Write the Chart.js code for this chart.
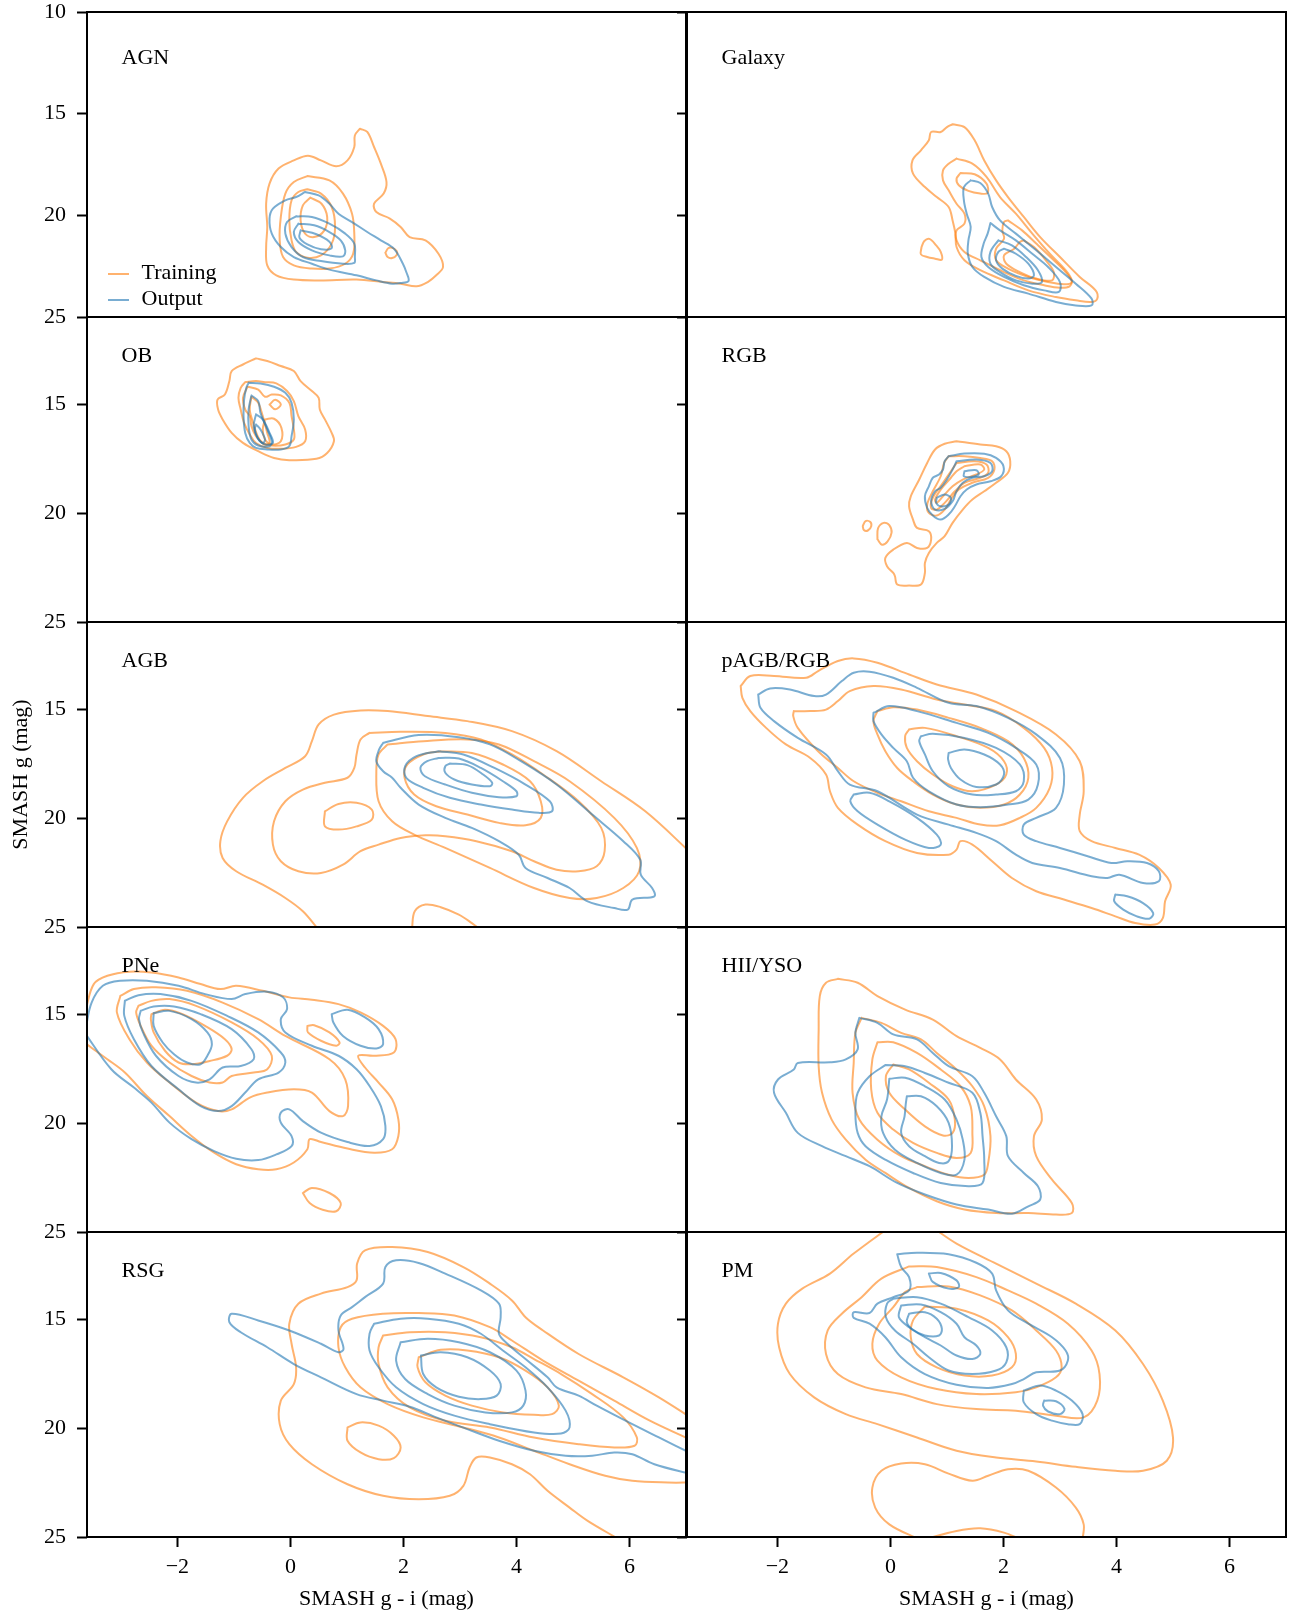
<!DOCTYPE html>
<html>
<head>
<meta charset="utf-8">
<script src="https://cdn.jsdelivr.net/npm/chart.js@4.4.1/dist/chart.umd.min.js"></script>
<style>
  html, body { margin: 0; padding: 0; background: #fff; }
  body { position: relative; width: 1304px; height: 1618px; overflow: hidden; }
  canvas { position: absolute; }
</style>
</head>
<body>
<script>
// Density contours in the colour-magnitude plane (SMASH g-i vs g), one panel per class.
// Each contour is a flat list x0,y0,x1,y1,... in data units (mag).

const panelNames = ['AGN', 'Galaxy', 'OB', 'RGB', 'AGB', 'pAGB/RGB', 'PNe', 'HII/YSO', 'RSG', 'PM'];
const seriesNames = ['Training', 'Output'];
const seriesColors = ['rgba(255,127,14,0.6)', 'rgba(31,119,180,0.6)'];
const xTickValues = [-2, 0, 2, 4, 6];
const yTicksFirstRow = [10, 15, 20, 25];
const yTicksOtherRows = [15, 20, 25];
const xRange = [-3.6, 7.0];
const yRangeFirstRow = [10, 25];
const yRangeOtherRows = [11, 25];
const xTitle = 'SMASH g - i (mag)';
const yTitle = 'SMASH g (mag)';

// ---- AGN ----
const agnTraining = [
  [1.23,15.74, 1.36,15.90, 1.48,16.64, 1.60,17.46, 1.70,18.36, 1.65,18.93, 1.48,19.43, 1.52,19.84, 1.76,20.16, 1.95,20.57, 2.11,21.07, 2.39,21.23, 2.62,21.89, 2.70,22.54, 2.58,22.95, 2.43,23.28, 2.23,23.49, 1.95,23.36, 1.64,23.28, 1.17,23.16, 0.54,23.20, 0.06,23.16, -0.25,22.95, -0.41,22.46, -0.43,21.56, -0.41,20.57, -0.43,19.43, -0.37,18.44, -0.21,17.70, 0.06,17.30, 0.31,17.07, 0.54,17.30, 0.81,17.59, 1.01,17.30, 1.13,16.64, 1.14,16.07],
  [1.68,21.84, 1.73,21.62, 1.80,21.60, 1.88,21.75, 1.88,21.95, 1.80,22.10, 1.72,22.05],
  [0.30,18.07, 0.69,18.28, 0.93,18.93, 1.09,19.92, 1.13,20.90, 1.11,21.89, 0.97,22.38, 0.69,22.62, 0.38,22.62, 0.06,22.46, -0.13,22.05, -0.19,21.23, -0.17,20.08, -0.09,18.93, 0.06,18.36],
  [0.30,18.72, 0.54,18.93, 0.73,19.59, 0.79,20.57, 0.73,21.39, 0.54,21.97, 0.30,22.08, 0.10,21.80, 0.02,21.23, -0.02,20.25, 0.02,19.26, 0.14,18.85],
  [0.35,19.13, 0.55,19.43, 0.65,20.08, 0.60,20.74, 0.42,21.07, 0.26,20.90, 0.18,20.25, 0.22,19.51]
];
const agnOutput = [
  [0.26,18.85, 0.50,19.02, 0.69,19.43, 0.85,19.92, 1.09,20.33, 1.36,20.82, 1.60,21.23, 1.83,21.64, 1.99,22.38, 2.05,22.79, 2.09,23.23, 1.95,23.33, 1.80,23.36, 1.52,23.20, 1.17,22.95, 0.69,22.67, 0.38,22.38, 0.06,22.05, -0.17,21.56, -0.33,20.90, -0.37,20.16, -0.31,19.67, -0.09,19.26, 0.10,19.10],
  [0.10,20.05, 0.38,20.08, 0.69,20.41, 0.97,20.90, 1.13,21.39, 1.14,22.05, 1.13,22.34, 0.93,22.38, 0.54,22.25, 0.22,22.05, 0.02,21.56, -0.09,20.90, -0.06,20.33],
  [0.14,20.41, 0.42,20.49, 0.69,20.82, 0.89,21.23, 0.97,21.72, 0.93,22.02, 0.69,21.97, 0.38,21.72, 0.14,21.31, 0.06,20.82],
  [0.18,20.74, 0.46,20.93, 0.69,21.30, 0.73,21.62, 0.54,21.67, 0.30,21.43, 0.16,21.10]
];

// ---- Galaxy ----
const galaxyTraining = [
  [1.10,15.52, 1.31,15.66, 1.49,16.31, 1.66,17.30, 1.87,18.28, 2.08,19.10, 2.36,20.08, 2.65,21.07, 3.00,22.05, 3.35,23.03, 3.63,23.69, 3.66,24.10, 3.56,24.26, 3.28,24.18, 2.93,24.02, 2.44,23.69, 2.01,23.20, 1.59,22.70, 1.31,22.21, 1.17,21.56, 1.15,20.90, 1.10,20.25, 1.03,19.59, 0.82,19.10, 0.61,18.61, 0.40,17.95, 0.39,17.30, 0.54,16.80, 0.68,16.31, 0.72,15.90, 0.89,15.90, 1.00,15.66],
  [0.55,21.56, 0.60,21.26, 0.69,21.16, 0.81,21.48, 0.89,21.80, 0.91,22.18, 0.79,22.13, 0.65,22.05, 0.54,21.92],
  [1.17,17.21, 1.45,17.46, 1.70,18.11, 1.94,19.10, 2.22,19.92, 2.51,20.90, 2.82,21.89, 3.10,22.70, 3.21,23.20, 3.17,23.49, 3.00,23.56, 2.72,23.44, 2.36,23.20, 2.01,22.79, 1.59,22.21, 1.31,21.80, 1.17,21.23, 1.17,20.74, 1.31,20.41, 1.31,19.92, 1.17,19.43, 1.03,18.77, 0.93,18.28, 0.93,17.79, 1.03,17.46],
  [1.24,17.92, 1.49,17.98, 1.70,18.44, 1.72,18.90, 1.59,18.93, 1.38,18.80, 1.21,18.52, 1.17,18.20],
  [2.08,20.25, 2.33,20.74, 2.58,21.39, 2.86,22.13, 3.10,22.79, 3.21,23.28, 3.07,23.39, 2.79,23.28, 2.44,23.03, 2.08,22.62, 1.87,22.21, 1.87,21.64, 2.01,21.15, 1.98,20.74, 2.01,20.33],
  [2.36,21.23, 2.54,21.56, 2.75,22.21, 2.89,22.79, 2.86,23.20, 2.58,23.11, 2.29,22.79, 2.05,22.38, 2.01,21.97, 2.19,21.64, 2.29,21.31]
];
const galaxyOutput = [
  [1.42,18.28, 1.59,18.41, 1.73,18.93, 1.80,19.59, 1.94,20.25, 2.22,20.90, 2.58,21.72, 2.93,22.54, 3.28,23.36, 3.56,24.10, 3.56,24.43, 3.28,24.43, 2.93,24.26, 2.44,23.85, 2.01,23.52, 1.66,23.03, 1.45,22.54, 1.37,21.89, 1.38,21.23, 1.42,20.57, 1.35,19.92, 1.30,19.26, 1.30,18.61],
  [1.77,20.38, 1.94,20.74, 2.22,21.23, 2.51,21.89, 2.79,22.54, 3.00,23.28, 2.98,23.77, 2.72,23.69, 2.36,23.44, 2.01,23.03, 1.73,22.54, 1.61,22.05, 1.65,21.39, 1.72,20.90],
  [1.91,21.23, 2.15,21.48, 2.40,22.05, 2.61,22.70, 2.68,23.28, 2.51,23.36, 2.22,23.20, 1.94,22.79, 1.77,22.38, 1.77,21.80],
  [2.01,21.64, 2.22,21.89, 2.44,22.38, 2.54,22.95, 2.44,23.11, 2.22,22.98, 1.98,22.62, 1.87,22.21, 1.91,21.80]
];

// ---- OB ----
const obTraining = [
  [-0.61,12.90, -0.41,13.02, -0.17,13.25, 0.06,13.48, 0.18,13.94, 0.38,14.40, 0.50,14.71, 0.52,15.25, 0.61,15.70, 0.73,16.32, 0.77,16.70, 0.65,17.24, 0.46,17.51, -0.02,17.57, -0.29,17.47, -0.57,17.16, -0.84,16.78, -1.04,16.32, -1.20,15.70, -1.28,15.25, -1.29,14.79, -1.16,14.56, -1.08,13.94, -1.04,13.48, -0.84,13.18],
  [-0.80,13.99, -0.61,13.94, -0.45,13.99, -0.25,14.05, -0.06,14.40, 0.06,14.86, 0.14,15.55, 0.26,16.16, 0.26,16.70, 0.10,16.96, -0.17,17.05, -0.41,17.01, -0.61,16.78, -0.72,16.39, -0.82,15.86, -0.88,15.25, -0.92,14.71, -0.88,14.25],
  [-0.76,14.20, -0.57,14.33, -0.45,14.66, -0.33,14.56, -0.17,14.60, -0.02,14.94, 0.02,15.55, 0.06,16.16, 0.06,16.62, -0.09,16.85, -0.33,16.90, -0.49,16.78, -0.61,16.47, -0.69,16.01, -0.72,15.55, -0.80,15.25, -0.84,14.71],
  [-0.37,15.02, -0.27,14.80, -0.17,15.02, -0.27,15.24],
  [-0.45,15.70, -0.29,15.67, -0.16,16.09, -0.17,16.70, -0.33,16.85, -0.45,16.62, -0.49,16.16],
  [-0.69,14.66, -0.57,14.94, -0.49,15.55, -0.41,16.32, -0.37,16.78, -0.47,16.85, -0.58,16.47, -0.66,15.86, -0.72,15.25]
];
const obOutput = [
  [-0.74,14.02, -0.53,14.05, -0.29,14.20, -0.09,14.48, 0.02,14.94, 0.06,15.70, 0.02,16.47, -0.02,16.93, -0.17,17.08, -0.41,17.08, -0.61,17.01, -0.72,16.78, -0.80,16.32, -0.83,15.55, -0.82,14.79, -0.78,14.25],
  [-0.69,14.60, -0.57,14.86, -0.53,15.40, -0.41,16.16, -0.33,16.70, -0.37,16.93, -0.57,16.90, -0.69,16.62, -0.74,16.01, -0.74,15.25],
  [-0.61,15.47, -0.49,15.70, -0.37,16.32, -0.31,16.78, -0.45,16.85, -0.58,16.55, -0.65,16.01],
  [-0.61,15.93, -0.53,16.16, -0.45,16.62, -0.49,16.78, -0.58,16.55, -0.63,16.16]
];

// ---- RGB ----
const rgbTraining = [
  [1.17,16.70, 1.59,16.85, 1.87,16.93, 2.05,17.16, 2.12,17.62, 2.08,18.15, 1.87,18.61, 1.66,19.00, 1.45,19.38, 1.28,19.84, 1.10,20.45, 0.96,21.06, 0.82,21.37, 0.68,21.83, 0.61,22.29, 0.61,22.75, 0.54,23.28, 0.33,23.33, 0.12,23.28, 0.08,22.90, 0.05,22.75, -0.06,22.44, -0.09,22.06, 0.05,21.68, 0.29,21.37, 0.47,21.60, 0.65,21.60, 0.72,21.22, 0.68,20.83, 0.47,20.68, 0.40,20.30, 0.33,19.69, 0.36,19.23, 0.51,18.46, 0.65,17.70, 0.79,17.08, 0.96,16.82],
  [-0.49,20.60, -0.44,20.37, -0.36,20.40, -0.34,20.60, -0.40,20.80, -0.47,20.78],
  [-0.23,21.20, -0.22,20.70, -0.12,20.45, -0.02,20.55, 0.02,20.90, -0.05,21.30, -0.15,21.45],
  [1.03,17.39, 1.31,17.39, 1.59,17.47, 1.80,17.62, 1.84,18.00, 1.73,18.38, 1.45,18.61, 1.21,18.92, 1.07,19.38, 0.96,19.84, 0.82,20.11, 0.68,19.99, 0.65,19.61, 0.75,19.00, 0.89,18.31, 0.95,17.70],
  [1.17,17.70, 1.49,17.62, 1.70,17.77, 1.73,18.15, 1.59,18.38, 1.31,18.61, 1.14,19.00, 0.96,19.53, 0.82,19.84, 0.72,19.76, 0.75,19.30, 0.93,18.61, 1.07,18.08],
  [1.31,17.85, 1.59,17.77, 1.66,18.00, 1.52,18.23, 1.28,18.46, 1.10,18.77, 0.93,19.23, 0.82,19.53, 0.79,19.38, 0.89,18.92, 1.07,18.38, 1.17,18.08]
];
const rgbOutput = [
  [1.03,17.39, 1.31,17.27, 1.66,17.28, 1.87,17.47, 2.00,17.85, 1.96,18.31, 1.77,18.54, 1.52,18.69, 1.35,18.92, 1.24,19.23, 1.14,19.69, 1.03,20.07, 0.89,20.30, 0.75,20.11, 0.65,19.76, 0.61,19.23, 0.68,18.77, 0.75,18.38, 0.86,18.23, 0.93,18.00, 0.96,17.62],
  [1.17,17.62, 1.52,17.54, 1.77,17.70, 1.80,18.08, 1.66,18.31, 1.45,18.38, 1.28,18.61, 1.17,19.00, 1.10,19.46, 0.96,19.81, 0.79,19.84, 0.72,19.46, 0.79,19.00, 0.89,18.84, 1.00,18.46, 1.10,18.00],
  [1.31,18.08, 1.52,18.03, 1.56,18.23, 1.42,18.34, 1.30,18.31],
  [0.82,19.30, 0.96,19.15, 1.07,19.30, 1.03,19.61, 0.89,19.69, 0.81,19.53]
];

// ---- AGB ----
const agbTraining = [
  [1.40,16.09, 1.95,16.04, 2.74,16.09, 3.37,16.39, 3.92,17.08, 4.47,18.00, 5.10,19.23, 5.50,20.45, 5.56,21.52, 5.42,22.21, 5.10,22.44, 4.71,22.37, 4.31,21.98, 3.92,21.52, 3.29,21.06, 2.74,20.83, 2.39,20.79, 1.95,20.91, 1.56,21.22, 1.24,21.52, 0.93,22.14, 0.54,22.52, 0.14,22.44, -0.17,21.98, -0.31,21.22, -0.29,20.15, -0.09,19.23, 0.22,18.69, 0.61,18.38, 1.01,18.15, 1.13,17.70, 1.17,17.08, 1.24,16.39],
  [0.61,19.69, 0.85,19.35, 1.17,19.30, 1.44,19.61, 1.44,20.07, 1.17,20.38, 0.85,20.53, 0.61,20.38],
  [1.72,16.62, 2.35,16.47, 3.13,16.39, 3.69,16.62, 4.31,17.39, 4.94,18.31, 5.73,19.99, 6.13,21.37, 6.17,22.44, 5.89,23.21, 5.42,23.67, 4.94,23.67, 4.31,23.21, 3.53,22.29, 2.74,21.37, 2.19,20.76, 1.80,20.15, 1.56,19.23, 1.52,17.85, 1.56,17.08],
  [2.66,16.93, 3.21,17.01, 3.76,17.54, 4.24,18.31, 4.43,19.23, 4.43,19.99, 4.16,20.33, 3.69,20.22, 3.13,19.84, 2.58,19.46, 2.19,18.92, 2.02,18.15, 2.07,17.54, 2.35,17.08]
];
const agbTrainingOpen = [
  [0.49,25.10, 0.22,24.28, -0.09,23.67, -0.49,23.06, -0.96,22.44, -1.20,21.83, -1.24,21.06, -1.12,20.15, -0.84,19.07, -0.49,18.31, -0.09,17.70, 0.26,17.16, 0.38,16.47, 0.50,15.70, 0.77,15.25, 1.24,15.06, 1.72,15.09, 2.43,15.32, 3.13,15.55, 3.92,16.01, 4.71,16.93, 5.50,18.31, 6.28,19.69, 7.10,21.63],
  [2.15,25.10, 2.20,24.28, 2.39,23.97, 2.66,24.09, 2.98,24.43, 3.21,24.82, 3.35,25.10]
];
const agbOutput = [
  [1.64,16.55, 2.27,16.19, 2.98,16.29, 3.53,16.62, 4.08,17.39, 4.71,18.46, 5.34,19.84, 5.89,21.06, 6.19,21.91, 6.20,22.60, 6.40,23.21, 6.44,23.59, 6.05,23.74, 5.97,24.20, 5.73,24.13, 5.26,23.82, 4.94,23.21, 4.55,22.75, 4.16,22.29, 4.04,21.68, 3.69,21.06, 3.21,20.45, 2.74,19.99, 2.27,19.38, 1.95,18.61, 1.80,18.15, 1.64,17.85, 1.52,17.39, 1.57,16.85],
  [2.62,16.93, 3.06,17.08, 3.61,17.70, 4.16,18.46, 4.59,19.23, 4.63,19.69, 4.39,19.76, 3.92,19.61, 3.37,19.38, 2.82,19.07, 2.35,18.61, 2.05,18.15, 2.03,17.62, 2.23,17.16],
  [2.62,17.24, 2.98,17.27, 3.37,17.70, 3.76,18.31, 4.00,18.77, 4.00,19.00, 3.69,19.04, 3.21,18.84, 2.74,18.46, 2.38,18.08, 2.30,17.70, 2.42,17.39],
  [2.82,17.50, 3.13,17.57, 3.41,18.00, 3.57,18.38, 3.53,18.54, 3.21,18.46, 2.90,18.23, 2.74,17.92, 2.74,17.62]
];

// ---- pAGB/RGB ----
const pagbTraining = [
  [-2.65,13.94, -2.48,13.48, -2.06,13.48, -1.49,13.56, -1.28,13.25, -0.93,12.79, -0.65,12.67, -0.23,12.87, 0.33,13.41, 0.82,13.87, 1.52,14.33, 2.22,15.09, 2.93,16.16, 3.35,17.39, 3.42,18.77, 3.35,19.84, 3.35,20.60, 3.56,21.06, 3.98,21.37, 4.40,21.68, 4.75,22.29, 4.96,23.06, 4.86,23.82, 4.82,24.59, 4.68,24.89, 4.33,24.82, 3.98,24.51, 3.56,24.13, 3.07,23.74, 2.58,23.36, 2.15,22.75, 1.80,21.98, 1.45,21.22, 1.24,21.06, 1.17,21.45, 1.03,21.68, 0.47,21.60, -0.09,21.06, -0.58,20.30, -0.93,19.53, -1.07,18.77, -1.14,18.00, -1.42,17.24, -1.85,16.62, -2.20,15.86, -2.48,15.09, -2.62,14.48],
  [-1.71,15.09, -1.42,15.09, -1.14,15.02, -0.93,14.63, -0.72,14.17, -0.30,13.94, 0.19,14.10, 0.82,14.56, 1.31,14.79, 1.87,15.09, 2.36,15.86, 2.72,16.78, 2.86,17.70, 2.82,18.61, 2.58,19.53, 2.29,19.99, 1.94,20.33, 1.59,20.30, 1.17,19.99, 0.68,19.69, 0.19,19.23, -0.23,18.84, -0.65,18.31, -0.93,17.70, -1.28,16.93, -1.64,15.86, -1.72,15.32],
  [-0.23,15.09, 0.05,14.91, 0.47,15.02, 1.03,15.40, 1.59,15.86, 2.08,16.47, 2.36,17.24, 2.44,18.15, 2.29,18.92, 2.01,19.38, 1.59,19.53, 1.17,19.38, 0.75,18.92, 0.40,18.31, 0.12,17.70, -0.09,16.93, -0.23,16.16, -0.30,15.55],
  [0.33,15.93, 0.61,15.86, 1.17,16.24, 1.73,16.78, 2.01,17.39, 2.05,18.00, 1.87,18.46, 1.45,18.77, 1.10,18.54, 0.75,18.00, 0.47,17.39, 0.29,16.78, 0.26,16.24]
];
const pagbOutput = [
  [-2.34,14.33, -2.13,14.05, -1.78,14.10, -1.35,14.40, -1.14,14.33, -0.86,13.71, -0.65,13.33, -0.37,13.28, 0.05,13.56, 0.47,14.02, 1.03,14.71, 1.52,14.86, 2.08,15.40, 2.58,16.16, 3.00,17.24, 3.07,18.46, 2.93,19.53, 2.58,19.99, 2.36,20.30, 2.36,20.76, 2.58,21.06, 3.00,21.37, 3.49,21.75, 3.91,22.06, 4.19,21.98, 4.54,22.06, 4.75,22.44, 4.75,22.90, 4.47,22.98, 4.05,22.60, 3.84,22.75, 3.56,22.67, 3.00,22.29, 2.51,22.06, 2.22,21.68, 1.87,21.06, 1.52,20.68, 1.03,20.30, 0.47,19.84, -0.23,18.77, -0.72,18.46, -0.93,17.85, -1.14,17.08, -1.64,16.32, -2.06,15.55, -2.30,14.94],
  [-0.30,15.17, -0.02,14.86, 0.47,15.09, 1.17,15.63, 1.73,16.09, 2.22,16.78, 2.58,17.54, 2.61,18.46, 2.44,19.15, 2.08,19.38, 1.59,19.50, 1.17,19.38, 0.68,18.77, 0.40,18.15, 0.29,17.39, 0.05,16.78, -0.16,16.16, -0.30,15.55],
  [0.54,16.24, 0.75,16.13, 1.31,16.32, 1.87,16.78, 2.29,17.54, 2.36,18.31, 2.22,18.77, 1.87,18.92, 1.45,18.92, 1.03,18.54, 0.75,17.85, 0.61,17.08, 0.51,16.47],
  [1.03,17.01, 1.31,16.85, 1.66,17.08, 1.94,17.54, 2.01,18.00, 1.87,18.46, 1.52,18.57, 1.24,18.23, 1.07,17.70, 1.02,17.31],
  [3.98,23.51, 4.19,23.59, 4.47,23.90, 4.65,24.36, 4.58,24.62, 4.36,24.51, 4.12,24.20, 3.96,23.82],
  [-0.65,18.92, -0.37,18.84, -0.02,19.23, 0.47,19.99, 0.82,20.76, 0.89,21.22, 0.68,21.37, 0.26,20.99, -0.23,20.30, -0.58,19.69, -0.71,19.23]
];

// ---- PNe ----
const pneTraining = [
  [-3.01,14.16, -2.77,13.85, -2.38,13.77, -1.83,13.93, -1.20,14.47, -0.57,15.23, -0.09,16.00, 0.69,17.07, 0.97,17.99, 1.02,19.21, 0.93,19.68, 0.69,19.45, 0.38,18.60, 0.06,18.45, -0.41,18.60, -0.72,18.83, -1.04,19.37, -1.28,19.45, -1.67,19.06, -2.14,18.14, -2.54,17.22, -2.85,16.15, -3.07,14.93],
  [-2.69,14.62, -2.46,14.39, -2.14,14.31, -1.67,14.62, -1.04,15.38, -0.57,16.15, -0.33,16.91, -0.41,17.53, -0.65,17.68, -1.04,17.84, -1.20,18.14, -1.43,18.14, -1.75,17.84, -2.14,17.22, -2.46,16.45, -2.65,15.54, -2.73,14.93],
  [-2.46,15.00, -2.22,14.80, -1.91,15.00, -1.51,15.54, -1.16,16.15, -1.04,16.61, -1.12,16.91, -1.43,17.15, -1.75,17.30, -1.98,17.22, -2.22,16.68, -2.42,15.84, -2.47,15.23],
  [0.30,15.54, 0.42,15.51, 0.69,15.84, 0.87,16.30, 0.81,16.45, 0.54,16.22, 0.31,15.84],
  [0.22,23.21, 0.38,22.98, 0.69,23.21, 0.89,23.67, 0.81,24.05, 0.57,23.98, 0.34,23.67]
];
const pneTrainingOpen = [
  [-3.62,14.75, -3.48,13.62, -3.24,13.24, -2.85,13.05, -2.46,13.09, -1.98,13.32, -1.59,13.62, -1.24,13.85, -0.96,13.70, -0.49,13.93, -0.02,14.23, 0.38,14.34, 0.85,14.54, 1.24,14.92, 1.64,15.54, 1.86,16.15, 1.83,16.76, 1.48,16.91, 1.20,16.91, 1.32,17.45, 1.56,18.14, 1.80,18.91, 1.91,19.83, 1.91,20.59, 1.80,21.20, 1.48,21.36, 1.01,21.17, 0.54,20.87, 0.34,20.74, 0.30,21.20, 0.06,21.81, -0.25,22.12, -0.57,22.12, -0.96,21.89, -1.35,21.36, -1.75,20.59, -2.14,19.68, -2.54,18.76, -2.93,17.68, -3.24,17.07, -3.65,16.30]
];
const pneOutput = [
  [-2.93,14.39, -2.69,14.13, -2.30,14.08, -1.75,14.39, -1.12,15.08, -0.57,15.84, -0.17,16.76, -0.09,17.22, -0.21,17.68, -0.57,17.99, -0.80,18.60, -1.04,19.22, -1.28,19.45, -1.59,19.22, -1.98,18.45, -2.46,17.38, -2.77,16.15, -2.94,15.08],
  [-2.65,14.85, -2.42,14.65, -2.06,14.65, -1.59,15.00, -1.04,15.69, -0.69,16.61, -0.65,17.07, -0.88,17.38, -1.20,17.45, -1.43,17.99, -1.67,18.14, -1.98,17.84, -2.38,16.91, -2.61,15.84, -2.68,15.23],
  [-2.42,14.95, -2.14,14.85, -1.75,15.23, -1.47,15.84, -1.39,16.38, -1.47,16.91, -1.59,17.30, -1.83,17.22, -2.06,16.84, -2.26,16.30, -2.42,15.54],
  [0.73,15.00, 1.01,14.80, 1.32,15.15, 1.56,15.69, 1.64,16.38, 1.52,16.58, 1.24,16.45, 0.93,16.00, 0.76,15.38]
];
const pneOutputOpen = [
  [-3.62,15.60, -3.52,14.48, -3.32,13.70, -3.01,13.47, -2.54,13.47, -1.98,13.70, -1.51,14.08, -1.04,14.31, -0.80,14.08, -0.41,13.97, -0.13,14.23, -0.06,14.77, -0.17,15.23, -0.09,15.84, 0.38,16.45, 0.85,16.91, 1.17,17.53, 1.40,18.30, 1.60,19.22, 1.68,20.13, 1.64,20.74, 1.40,21.05, 1.01,20.87, 0.54,20.44, 0.22,19.91, -0.02,19.37, -0.17,19.52, -0.17,19.98, 0.02,20.60, 0.02,21.06, -0.25,21.44, -0.57,21.70, -0.96,21.64, -1.35,21.29, -1.75,20.74, -2.14,19.98, -2.46,19.06, -2.77,18.37, -3.17,17.53, -3.65,15.82]
];

// ---- HII/YSO ----
const hiiTraining = [
  [-0.93,13.38, -0.58,13.56, -0.23,14.17, 0.26,14.79, 0.75,15.25, 1.17,16.01, 1.59,16.55, 1.94,17.08, 2.22,18.00, 2.58,18.92, 2.68,19.84, 2.54,20.60, 2.58,21.52, 2.86,22.60, 3.21,23.67, 3.21,24.13, 2.93,24.20, 2.44,24.13, 1.87,24.13, 1.31,23.97, 0.82,23.59, 0.33,22.98, -0.09,22.29, -0.44,21.68, -0.79,20.76, -1.04,19.84, -1.21,18.61, -1.27,17.39, -1.27,15.70, -1.25,14.17, -1.14,13.56],
  [-0.51,15.17, -0.16,15.40, 0.19,15.86, 0.54,16.16, 0.82,16.78, 1.17,17.54, 1.45,18.31, 1.66,19.23, 1.77,20.60, 1.73,21.83, 1.66,22.37, 1.38,22.52, 1.03,22.37, 0.61,21.98, 0.19,21.52, -0.23,20.76, -0.55,19.84, -0.67,18.61, -0.65,17.24, -0.62,15.86],
  [-0.23,16.29, 0.05,16.29, 0.47,16.78, 0.89,17.54, 1.24,18.31, 1.42,19.23, 1.45,20.45, 1.42,21.37, 1.17,21.60, 0.82,21.37, 0.40,20.91, 0.05,20.30, -0.23,19.53, -0.34,18.46, -0.32,17.08],
  [0.05,17.31, 0.33,17.54, 0.68,18.15, 1.03,18.92, 1.14,19.84, 1.10,20.45, 0.93,20.57, 0.61,20.15, 0.26,19.38, -0.02,18.61, -0.08,17.85]
];
const hiiOutput = [
  [-0.55,15.17, -0.23,15.40, 0.05,15.93, 0.47,16.16, 0.75,16.78, 1.03,17.39, 1.45,17.85, 1.66,18.61, 1.87,19.69, 2.05,20.60, 2.08,21.52, 2.36,22.29, 2.61,22.90, 2.65,23.51, 2.44,23.82, 2.15,24.16, 1.73,23.97, 1.17,23.74, 0.61,23.28, 0.12,22.75, -0.37,21.98, -0.79,21.52, -1.21,21.06, -1.64,20.45, -1.85,19.53, -2.06,18.61, -1.99,18.00, -1.71,17.54, -1.64,17.24, -1.07,17.21, -0.79,17.08, -0.58,16.62, -0.62,15.86],
  [-0.09,17.34, 0.26,17.39, 0.61,17.70, 1.03,18.15, 1.45,18.61, 1.59,19.53, 1.63,20.60, 1.66,21.68, 1.63,22.75, 1.38,22.90, 0.89,22.75, 0.40,22.29, -0.09,21.68, -0.44,21.06, -0.58,20.45, -0.62,19.53, -0.58,18.61, -0.37,17.85],
  [-0.02,17.97, 0.26,17.92, 0.61,18.31, 0.96,18.92, 1.17,19.84, 1.28,20.76, 1.31,21.68, 1.17,22.37, 0.89,22.29, 0.47,21.83, 0.08,21.22, -0.13,20.45, -0.16,19.69, -0.06,18.92],
  [0.29,18.77, 0.54,18.77, 0.82,19.23, 1.03,19.99, 1.09,21.06, 1.03,21.75, 0.86,21.83, 0.61,21.52, 0.33,21.06, 0.19,20.45, 0.25,19.69, 0.27,19.15]
];

// ---- RSG ----
const rsgTraining = [
  [1.64,15.75, 2.11,15.60, 2.74,15.60, 3.37,15.83, 3.92,16.29, 4.31,16.83, 4.79,17.52, 5.34,18.44, 5.89,19.51, 6.13,20.43, 6.09,20.81, 5.73,20.89, 5.10,20.74, 4.31,20.43, 3.53,19.97, 2.74,19.66, 2.11,19.05, 1.72,18.13, 1.56,17.06, 1.56,16.29],
  [2.27,16.75, 2.66,16.41, 3.13,16.44, 3.69,16.75, 4.16,17.36, 4.55,18.13, 4.75,18.97, 4.63,19.36, 4.31,19.39, 3.76,19.28, 3.21,18.97, 2.74,18.51, 2.39,17.90, 2.25,17.21],
  [1.01,19.97, 1.24,19.74, 1.56,19.89, 1.83,20.35, 1.95,20.89, 1.83,21.38, 1.56,21.43, 1.24,21.12, 1.01,20.58]
];
const rsgTrainingOpen = [
  [7.10,19.54, 6.52,18.59, 5.89,17.67, 5.10,16.60, 4.47,15.52, 4.16,14.91, 3.92,14.14, 3.53,13.37, 3.06,12.61, 2.43,11.92, 1.80,11.69, 1.32,11.84, 1.18,12.45, 1.17,13.22, 1.01,13.53, 0.54,13.83, 0.14,14.29, -0.02,15.21, 0.02,16.13, 0.10,17.21, 0.06,17.98, -0.17,18.74, -0.19,19.82, -0.02,20.74, 0.38,21.66, 1.01,22.58, 1.64,23.11, 2.27,23.27, 2.82,23.11, 3.06,22.65, 3.17,21.81, 3.29,21.35, 3.53,21.35, 3.92,21.66, 4.24,22.12, 4.55,22.88, 4.94,23.65, 5.26,24.26, 5.81,25.10],
  [7.10,20.56, 6.36,19.66, 5.73,18.74, 5.10,17.82, 4.47,16.90, 3.92,15.98, 3.53,15.37, 2.90,14.83, 2.27,14.72, 1.64,14.75, 1.09,14.98, 0.89,15.37, 0.85,16.29, 0.97,17.21, 1.24,18.13, 1.72,18.90, 2.35,19.51, 3.06,19.97, 3.69,20.43, 4.31,21.04, 4.94,21.66, 5.57,22.19, 6.05,22.42, 6.68,22.50, 7.10,22.50]
];
const rsgOutput = [
  [1.48,15.21, 1.95,14.98, 2.43,14.98, 2.98,15.21, 3.37,15.67, 3.76,16.44, 4.16,17.21, 4.55,18.13, 4.87,19.20, 4.94,19.97, 4.79,20.25, 4.31,20.20, 3.53,19.82, 2.90,19.43, 2.35,18.90, 1.87,18.13, 1.56,17.21, 1.40,16.44, 1.40,15.67],
  [1.95,16.06, 2.43,15.90, 2.98,16.06, 3.53,16.52, 4.00,17.36, 4.16,18.28, 4.12,18.97, 3.92,19.28, 3.45,19.28, 2.90,18.97, 2.43,18.44, 2.03,17.75, 1.87,16.90],
  [2.31,16.67, 2.66,16.52, 3.13,16.75, 3.53,17.36, 3.72,17.98, 3.65,18.51, 3.37,18.67, 2.98,18.56, 2.58,18.13, 2.35,17.52]
];
const rsgOutputOpen = [
  [7.10,21.18, 6.52,20.43, 6.05,19.82, 5.42,18.97, 5.10,18.51, 4.71,18.13, 4.55,17.67, 4.16,16.83, 3.84,16.13, 3.69,15.67, 3.72,14.91, 3.69,14.29, 3.37,13.68, 2.74,12.91, 2.27,12.42, 1.87,12.30, 1.68,12.61, 1.64,13.37, 1.32,13.99, 1.09,14.45, 0.89,14.83, 0.85,15.52, 0.94,16.37, 0.85,16.52, 0.54,16.13, -0.02,15.52, -0.57,15.06, -1.04,14.75, -1.08,15.14, -0.88,15.60, -0.41,16.29, 0.06,17.06, 0.54,17.67, 1.17,18.44, 1.64,18.74, 2.11,19.02, 2.58,19.51, 3.13,20.05, 3.69,20.58, 4.31,21.04, 4.87,21.27, 5.34,21.27, 5.73,21.12, 6.05,21.20, 6.44,21.66, 7.10,22.12]
];

// ---- PM ----
const pmTraining = [
  [0.33,12.58, 0.82,12.61, 1.52,13.07, 2.08,13.68, 2.58,14.29, 3.14,15.21, 3.56,16.44, 3.70,17.52, 3.66,18.74, 3.42,19.51, 2.93,19.43, 2.22,19.20, 1.52,19.13, 0.82,18.90, 0.19,18.44, -0.44,18.13, -0.93,17.52, -1.14,16.60, -1.11,15.52, -0.86,14.75, -0.51,13.99, -0.16,13.14],
  [0.47,13.53, 1.03,13.50, 1.59,13.91, 2.15,14.60, 2.58,15.52, 2.93,16.44, 3.03,17.21, 2.93,17.67, 2.58,18.13, 2.22,18.36, 1.52,18.44, 0.82,18.21, 0.19,17.67, -0.23,16.90, -0.32,16.13, -0.20,15.21, 0.05,14.45, 0.26,13.76],
  [0.61,14.42, 1.17,14.52, 1.73,15.06, 2.08,15.83, 2.22,16.60, 2.15,17.21, 1.80,17.59, 1.31,17.59, 0.82,17.21, 0.47,16.60, 0.36,15.83, 0.40,15.06]
];
const pmTrainingOpen = [
  [-0.03,10.80, -0.65,11.99, -1.07,12.91, -1.56,13.60, -1.85,14.29, -1.99,15.21, -1.97,16.29, -1.78,17.52, -1.35,18.59, -0.79,19.36, -0.23,19.82, 0.47,20.43, 1.17,21.04, 1.87,21.35, 2.58,21.53, 3.28,21.78, 3.98,21.96, 4.47,21.96, 4.89,21.50, 5.00,20.43, 4.82,18.74, 4.47,17.06, 3.98,15.52, 3.28,14.29, 2.58,13.37, 1.87,12.45, 1.17,11.53, 0.75,10.80],
  [0.50,25.10, -0.02,24.42, -0.27,23.65, -0.32,22.73, -0.16,21.96, 0.19,21.63, 0.61,21.66, 1.03,22.09, 1.45,22.42, 1.73,22.19, 2.08,21.89, 2.44,21.96, 2.93,22.73, 3.28,23.65, 3.42,24.42, 3.40,25.10],
  [0.61,25.10, 1.17,24.72, 1.59,24.60, 2.01,24.80, 2.29,25.10]
];
const pmOutput = [
  [0.12,12.02, 0.47,11.95, 1.03,12.02, 1.52,12.41, 1.80,12.91, 1.87,13.68, 2.08,14.60, 2.44,15.21, 2.86,15.83, 3.10,16.44, 3.14,16.90, 3.00,17.36, 2.58,17.44, 2.36,17.75, 2.15,17.98, 1.73,18.16, 1.17,18.01, 0.61,17.52, 0.19,16.75, -0.09,15.83, -0.37,15.21, -0.65,14.94, -0.65,14.68, -0.37,14.72, -0.23,14.29, 0.05,13.99, 0.33,13.68, 0.33,13.07, 0.19,12.61],
  [0.68,12.91, 0.89,12.88, 1.17,13.22, 1.21,13.53, 1.03,13.60, 0.75,13.29],
  [0.05,14.06, 0.47,13.99, 0.89,14.29, 1.38,14.91, 1.80,15.52, 2.05,16.29, 2.05,16.98, 1.87,17.36, 1.45,17.52, 1.03,17.36, 0.68,16.75, 0.40,16.13, 0.08,15.52, -0.08,14.91, -0.06,14.29],
  [0.19,14.37, 0.54,14.33, 0.89,14.68, 1.17,15.21, 1.31,15.83, 1.52,16.21, 1.59,16.60, 1.45,16.83, 1.17,16.67, 0.89,16.21, 0.61,15.83, 0.33,15.37, 0.15,14.91],
  [0.33,14.75, 0.61,14.68, 0.82,14.98, 0.91,15.44, 0.86,15.75, 0.61,15.75, 0.40,15.49, 0.29,15.14],
  [2.36,18.28, 2.65,18.05, 2.93,18.28, 3.21,18.74, 3.40,19.36, 3.35,19.82, 3.14,19.82, 2.86,19.66, 2.58,19.36, 2.36,18.82],
  [2.72,18.74, 2.93,18.77, 3.08,19.12, 3.00,19.36, 2.79,19.24, 2.70,18.97]
];

// Panel contents, in reading order (left/right, top to bottom).
const panelData = [
  { training: agnTraining,    trainingOpen: [],               output: agnOutput,    outputOpen: [] },
  { training: galaxyTraining, trainingOpen: [],               output: galaxyOutput, outputOpen: [] },
  { training: obTraining,     trainingOpen: [],               output: obOutput,     outputOpen: [] },
  { training: rgbTraining,    trainingOpen: [],               output: rgbOutput,    outputOpen: [] },
  { training: agbTraining,    trainingOpen: agbTrainingOpen,  output: agbOutput,    outputOpen: [] },
  { training: pagbTraining,   trainingOpen: [],               output: pagbOutput,   outputOpen: [] },
  { training: pneTraining,    trainingOpen: pneTrainingOpen,  output: pneOutput,    outputOpen: pneOutputOpen },
  { training: hiiTraining,    trainingOpen: [],               output: hiiOutput,    outputOpen: [] },
  { training: rsgTraining,    trainingOpen: rsgTrainingOpen,  output: rsgOutput,    outputOpen: rsgOutputOpen },
  { training: pmTraining,     trainingOpen: pmTrainingOpen,   output: pmOutput,     outputOpen: [] }
];

// ---- Layout (page pixels) ----
const COL_LEFT = [87, 687];
const ROW_TOP = [12, 317, 622, 927, 1232];
const PANEL_W = 599, PANEL_H = 305;
const AXIS_W = 80, PAD_V = 30, PAD_R = 20, X_AXIS_H = 75;
const FONT = "'Liberation Serif', 'Times New Roman', serif";
const FONT_SIZE = 22;

Chart.defaults.font.family = FONT;
Chart.defaults.font.size = FONT_SIZE;
Chart.defaults.color = '#000';

function toPoints(flat, close) {
  const pts = [];
  for (let i = 0; i < flat.length; i += 2) pts.push({ x: flat[i], y: flat[i + 1] });
  if (close) pts.push({ x: flat[0], y: flat[1] });
  return pts;
}

function contourSets(list, close, color) {
  return list.map(flat => ({
    data: toPoints(flat, close),
    showLine: true,
    borderColor: color,
    borderWidth: 2,
    pointRadius: 0,
    tension: 0.35,
    fill: false,
    borderJoinStyle: 'round',
    borderCapStyle: 'round'
  }));
}

function fmt(v) {
  return v < 0 ? '\u2212' + Math.abs(v) : String(v);
}

// Frame, panel name and (first panel) legend.
const panelDecor = {
  id: 'panelDecor',
  afterDatasetsDraw(chart, args, opts) {
    const { ctx, chartArea: a } = chart;
    ctx.save();
    ctx.lineWidth = 2;
    ctx.strokeStyle = '#000';
    ctx.strokeRect(a.left, a.top, a.right - a.left, a.bottom - a.top);
    ctx.fillStyle = '#000';
    ctx.font = FONT_SIZE + 'px ' + FONT;
    ctx.textAlign = 'left';
    ctx.textBaseline = 'alphabetic';
    ctx.fillText(opts.label, a.left + 34.5, a.top + opts.labelDrop);
    if (opts.showLegend) {
      seriesNames.forEach((name, k) => {
        const y = a.top + 262 + k * 26;
        ctx.strokeStyle = seriesColors[k];
        ctx.lineWidth = 2;
        ctx.beginPath();
        ctx.moveTo(a.left + 21, y);
        ctx.lineTo(a.left + 42, y);
        ctx.stroke();
        ctx.fillStyle = '#000';
        ctx.fillText(name, a.left + 54.5, y + 4.5);
      });
    }
    ctx.restore();
  }
};

function makePanel(i) {
  const col = i % 2, row = Math.floor(i / 2);
  const isBottom = row === ROW_TOP.length - 1;
  const isTop = row === 0;
  const w = AXIS_W + PANEL_W + PAD_R;
  const h = PAD_V + PANEL_H + (isBottom ? X_AXIS_H : PAD_V);
  const canvas = document.createElement('canvas');
  canvas.width = w; canvas.height = h;
  canvas.style.width = w + 'px'; canvas.style.height = h + 'px';
  canvas.style.left = (COL_LEFT[col] - AXIS_W) + 'px';
  canvas.style.top = (ROW_TOP[row] - PAD_V) + 'px';
  document.body.appendChild(canvas);

  const d = panelData[i];
  const datasets = [
    ...contourSets(d.output, true, seriesColors[1]),
    ...contourSets(d.outputOpen, false, seriesColors[1]),
    ...contourSets(d.training, true, seriesColors[0]),
    ...contourSets(d.trainingOpen, false, seriesColors[0])
  ];
  const yTicks = isTop ? yTicksFirstRow : yTicksOtherRows;
  const yRange = isTop ? yRangeFirstRow : yRangeOtherRows;

  new Chart(canvas, {
    type: 'scatter',
    data: { datasets },
    options: {
      responsive: false,
      animation: false,
      devicePixelRatio: 1,
      events: [],
      layout: { padding: { left: 0, top: PAD_V, right: PAD_R, bottom: isBottom ? 0 : PAD_V } },
      plugins: {
        legend: { display: false },
        tooltip: { enabled: false },
        panelDecor: { label: panelNames[i], labelDrop: isTop ? 51.5 : 45, showLegend: i === 0 }
      },
      scales: {
        x: {
          type: 'linear',
          position: 'bottom',
          min: xRange[0], max: xRange[1],
          display: isBottom,
          afterBuildTicks: s => { s.ticks = xTickValues.map(v => ({ value: v })); },
          afterFit: s => { if (isBottom) s.height = X_AXIS_H; },
          grid: { drawOnChartArea: false, drawTicks: true, tickLength: 10, tickWidth: 2, tickColor: '#000' },
          border: { display: false },
          ticks: { padding: 7, maxRotation: 0, autoSkip: false, color: '#000', callback: v => fmt(v) },
          title: { display: isBottom, text: xTitle, color: '#000', padding: { top: 0, bottom: 0 } }
        },
        y: {
          type: 'linear',
          position: 'left',
          reverse: true,
          min: yRange[0], max: yRange[1],
          afterBuildTicks: s => { s.ticks = yTicks.map(v => ({ value: v })); },
          afterFit: s => { s.width = AXIS_W; },
          grid: { drawOnChartArea: false, drawTicks: true, tickLength: 10, tickWidth: 2, tickColor: '#000' },
          border: { display: false },
          ticks: { display: col === 0, padding: 11, autoSkip: false, color: '#000', callback: v => fmt(v) },
          title: { display: i === 4, text: yTitle, color: '#000', padding: { top: 1, bottom: 0 } }
        }
      }
    },
    plugins: [panelDecor]
  });
}

for (let i = 0; i < panelNames.length; i++) makePanel(i);
</script>
</body>
</html>
